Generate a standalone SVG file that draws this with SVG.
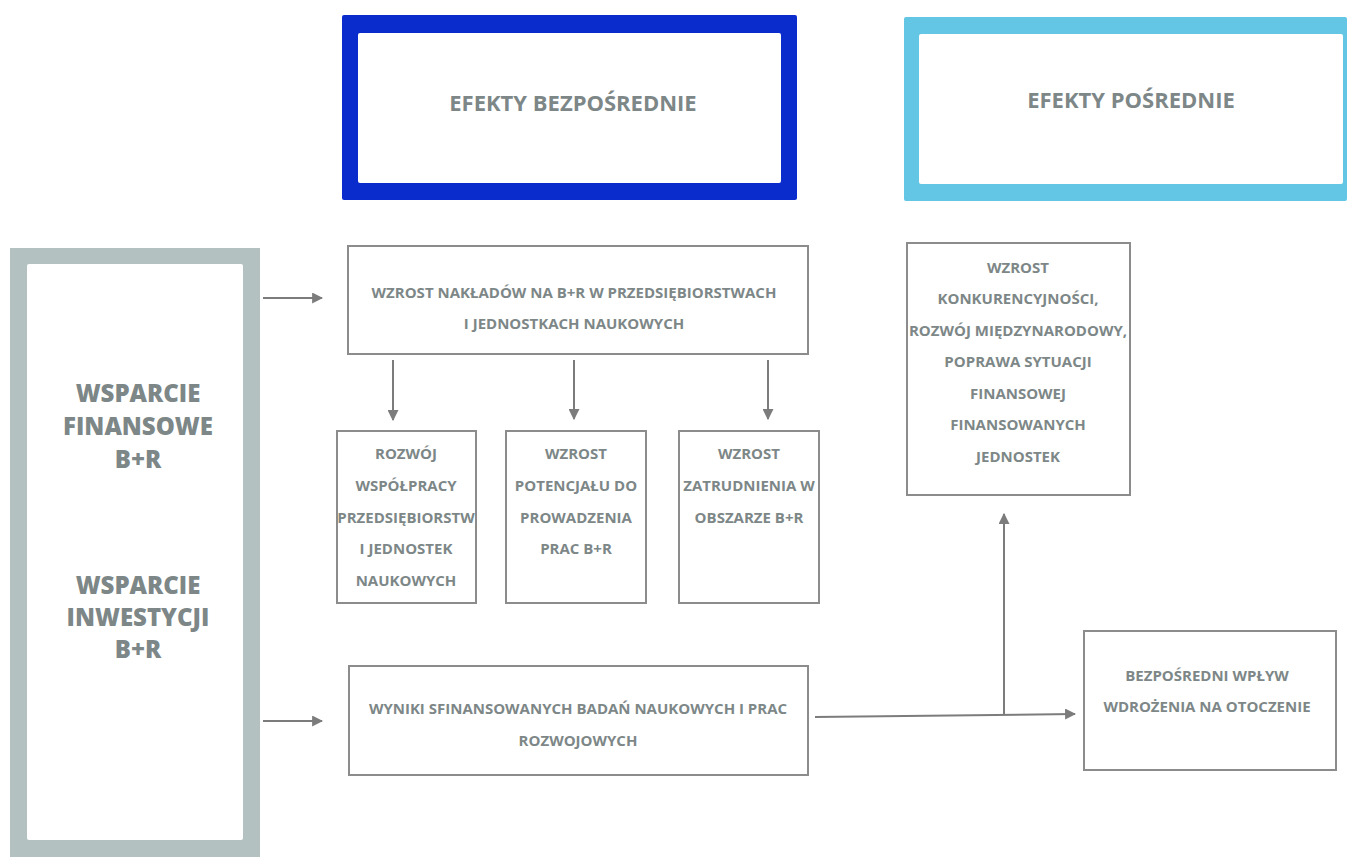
<svg xmlns="http://www.w3.org/2000/svg" width="1347" height="857" viewBox="0 0 1347 857">
<defs>
<marker id="ah" viewBox="0 0 10 10" refX="9" refY="5" markerWidth="11" markerHeight="11" markerUnits="userSpaceOnUse" orient="auto">
<path d="M0,0 L10,5 L0,10 z" fill="#7c7c7c"/>
</marker>
<style>
.box{fill:#fff;stroke:#8c8c8c;stroke-width:2}
.t{font-family:"Open Sans","Liberation Sans",sans-serif;font-weight:700;fill:#7d8787;text-anchor:middle;dominant-baseline:central}
.s{font-size:15px}
.h{font-size:22px}
.l{font-size:24px;font-weight:800}
.c{stroke:#7c7c7c;stroke-width:2;fill:none}
</style>
</defs>
<rect width="1347" height="857" fill="#fff"/>
<g id="efekty-bezposrednie">
<rect x="342" y="15" width="455" height="185" rx="2" fill="#0a2ccc"/>
<rect x="358" y="33" width="423" height="150" rx="2" fill="#fff"/>
<text class="t h" x="573" y="102">EFEKTY BEZPOŚREDNIE</text>
</g>
<g id="efekty-posrednie">
<rect x="904" y="17" width="443" height="184" rx="2" fill="#62c6e4"/>
<rect x="919" y="34" width="424" height="150" rx="2" fill="#fff"/>
<text class="t h" x="1131" y="99">EFEKTY POŚREDNIE</text>
</g>
<g id="wsparcie">
<rect x="10" y="248" width="250" height="609" fill="#b3c1c1"/>
<rect x="27" y="264" width="216" height="576" rx="2" fill="#fff"/>
<text class="t l" x="138" y="392">WSPARCIE</text>
<text class="t l" x="138" y="425">FINANSOWE</text>
<text class="t l" x="138" y="458">B+R</text>
<text class="t l" x="138" y="584">WSPARCIE</text>
<text class="t l" x="138" y="616">INWESTYCJI</text>
<text class="t l" x="138" y="648">B+R</text>
</g>
<g id="wzrost-nakladow">
<rect class="box" x="348" y="246" width="460" height="108"/>
<text class="t s" x="574" y="292">WZROST NAKŁADÓW NA B+R W PRZEDSIĘBIORSTWACH</text>
<text class="t s" x="574" y="323">I JEDNOSTKACH NAUKOWYCH</text>
</g>
<g id="rozwoj-wspolpracy">
<rect class="box" x="337" y="431" width="139" height="172"/>
<text class="t s" x="406" y="453">ROZWÓJ</text>
<text class="t s" x="406" y="485">WSPÓŁPRACY</text>
<text class="t s" x="406" y="517">PRZEDSIĘBIORSTW</text>
<text class="t s" x="406" y="548">I JEDNOSTEK</text>
<text class="t s" x="406" y="580">NAUKOWYCH</text>
</g>
<g id="wzrost-potencjalu">
<rect class="box" x="506" y="431" width="140" height="172"/>
<text class="t s" x="576" y="453">WZROST</text>
<text class="t s" x="576" y="485">POTENCJAŁU DO</text>
<text class="t s" x="576" y="517">PROWADZENIA</text>
<text class="t s" x="576" y="548">PRAC B+R</text>
</g>
<g id="wzrost-zatrudnienia">
<rect class="box" x="679" y="431" width="140" height="172"/>
<text class="t s" x="749" y="453">WZROST</text>
<text class="t s" x="749" y="485">ZATRUDNIENIA W</text>
<text class="t s" x="749" y="517">OBSZARZE B+R</text>
</g>
<g id="wzrost-konkurencyjnosci">
<rect class="box" x="907" y="243" width="223" height="252"/>
<text class="t s" x="1018" y="267">WZROST</text>
<text class="t s" x="1018" y="298">KONKURENCYJNOŚCI,</text>
<text class="t s" x="1018" y="330">ROZWÓJ MIĘDZYNARODOWY,</text>
<text class="t s" x="1018" y="361">POPRAWA SYTUACJI</text>
<text class="t s" x="1018" y="393">FINANSOWEJ</text>
<text class="t s" x="1018" y="424">FINANSOWANYCH</text>
<text class="t s" x="1018" y="456">JEDNOSTEK</text>
</g>
<g id="wyniki">
<rect class="box" x="349" y="666" width="459" height="109"/>
<text class="t s" x="578" y="708">WYNIKI SFINANSOWANYCH BADAŃ NAUKOWYCH I PRAC</text>
<text class="t s" x="578" y="740">ROZWOJOWYCH</text>
</g>
<g id="wplyw">
<rect class="box" x="1084" y="631" width="252" height="139"/>
<text class="t s" x="1207" y="675">BEZPOŚREDNI WPŁYW</text>
<text class="t s" x="1207" y="706">WDROŻENIA NA OTOCZENIE</text>
</g>
<g id="connectors">
<path class="c" d="M263,298 L322,298" marker-end="url(#ah)"/>
<path class="c" d="M263,721 L322,721" marker-end="url(#ah)"/>
<path class="c" d="M393,360 L393,420" marker-end="url(#ah)"/>
<path class="c" d="M574,360 L574,419" marker-end="url(#ah)"/>
<path class="c" d="M768,360 L768,419" marker-end="url(#ah)"/>
<path class="c" d="M815,717 L1075,714" marker-end="url(#ah)"/>
<path class="c" d="M1004,714 L1004,514" marker-end="url(#ah)"/>
</g>
</svg>
